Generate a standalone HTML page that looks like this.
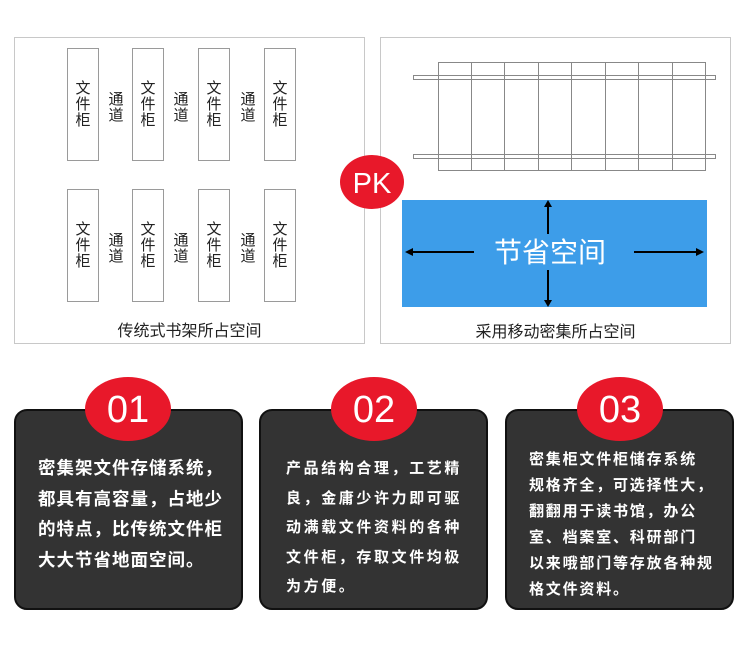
<!DOCTYPE html>
<html><head><meta charset="utf-8"><style>
body{margin:0;width:750px;height:650px;background:#fff;position:relative;overflow:hidden;font-family:"Liberation Sans","Noto Sans CJK SC",sans-serif}
.a{position:absolute}
.box{position:absolute;border:1.5px solid #c8c8c8;background:#fff}
.cab{position:absolute;width:32px;height:113px;border:1px solid #9a9a9a;box-sizing:border-box;display:flex;align-items:center;justify-content:center;font-size:15px;line-height:16px;color:#222;text-align:center}
.ch{position:absolute;width:20px;font-size:15px;line-height:16px;color:#222;text-align:center}
.card{position:absolute;top:409px;width:229px;height:201px;background:#333;border:2px solid #111;border-radius:13px;box-sizing:border-box;color:#fff;font-weight:bold}
.num{position:absolute;width:86px;height:64px;top:377px;background:#e8182a;border-radius:50%;color:#fff;font-size:38px;text-align:center;line-height:66px}
</style></head><body>
<div class="box" style="left:14px;top:37px;width:349px;height:305px"></div>
<div class="box" style="left:380px;top:37px;width:349px;height:305px"></div>

<div class="cab" style="left:67px;top:48px">文<br>件<br>柜</div>
<div class="cab" style="left:132px;top:48px">文<br>件<br>柜</div>
<div class="cab" style="left:198px;top:48px">文<br>件<br>柜</div>
<div class="cab" style="left:264px;top:48px">文<br>件<br>柜</div>
<div class="cab" style="left:67px;top:189px">文<br>件<br>柜</div>
<div class="cab" style="left:132px;top:189px">文<br>件<br>柜</div>
<div class="cab" style="left:198px;top:189px">文<br>件<br>柜</div>
<div class="cab" style="left:264px;top:189px">文<br>件<br>柜</div>
<div class="ch" style="left:106px;top:92px">通<br>道</div>
<div class="ch" style="left:171px;top:92px">通<br>道</div>
<div class="ch" style="left:238px;top:92px">通<br>道</div>
<div class="ch" style="left:106px;top:233px">通<br>道</div>
<div class="ch" style="left:171px;top:233px">通<br>道</div>
<div class="ch" style="left:238px;top:233px">通<br>道</div>
<div class="a" style="left:14px;width:351px;top:317px;text-align:center;font-size:16px;color:#222">传统式书架所占空间</div>

<svg class="a" style="left:0;top:0" width="750" height="650">
<g stroke="#888" stroke-width="1" fill="none">
<rect x="438.5" y="62.5" width="267" height="108"/>
<line x1="471.5" y1="62" x2="471.5" y2="170"/><line x1="504.5" y1="62" x2="504.5" y2="170"/>
<line x1="538.5" y1="62" x2="538.5" y2="170"/><line x1="571.5" y1="62" x2="571.5" y2="170"/>
<line x1="605.5" y1="62" x2="605.5" y2="170"/><line x1="638.5" y1="62" x2="638.5" y2="170"/>
<line x1="672.5" y1="62" x2="672.5" y2="170"/>
<rect x="413.5" y="75.5" width="302" height="4"/>
<rect x="413.5" y="154.5" width="302" height="4"/>
</g>
<rect x="402" y="200" width="305" height="107" fill="#3d9de9"/>
<g stroke="#000" stroke-width="2">
<line x1="548" y1="204" x2="548" y2="234"/><line x1="548" y1="270" x2="548" y2="303"/>
<line x1="410" y1="252" x2="474" y2="252"/><line x1="634" y1="252" x2="699" y2="252"/>
</g>
<g fill="#000">
<polygon points="548,200 544,207 552,207"/><polygon points="548,307 544,300 552,300"/>
<polygon points="405,252 413,248 413,256"/><polygon points="704,252 696,248 696,256"/>
</g>
<text x="550" y="262" font-size="28" fill="#fff" text-anchor="middle" font-family="Liberation Sans,Noto Sans CJK SC,sans-serif">节省空间</text>
<ellipse cx="372" cy="182" rx="32" ry="27" fill="#e8182a"/>
<text x="372" y="193" font-size="29" fill="#fff" text-anchor="middle" font-family="Liberation Sans,sans-serif">PK</text>
</svg>
<div class="a" style="left:380px;width:351px;top:318px;text-align:center;font-size:16px;color:#222">采用移动密集所占空间</div>

<div class="card" style="left:14px"><div style="position:absolute;left:22px;top:42px;font-size:17.5px;line-height:30.5px;letter-spacing:1px;white-space:nowrap">密集架文件存储系统，<br>都具有高容量，占地少<br>的特点，比传统文件柜<br>大大节省地面空间。</div></div>
<div class="card" style="left:259px"><div style="position:absolute;left:25px;top:43px;font-size:15px;line-height:29.5px;letter-spacing:2.6px;white-space:nowrap">产品结构合理，工艺精<br>良，金庸少许力即可驱<br>动满载文件资料的各种<br>文件柜，存取文件均极<br>为方便。</div></div>
<div class="card" style="left:505px"><div style="position:absolute;left:22px;top:36px;font-size:15px;line-height:26px;letter-spacing:1.8px;white-space:nowrap">密集柜文件柜储存系统<br>规格齐全，可选择性大，<br>翻翻用于读书馆，办公<br>室、档案室、科研部门<br>以来哦部门等存放各种规<br>格文件资料。</div></div>
<div class="num" style="left:85px">01</div>
<div class="num" style="left:331px">02</div>
<div class="num" style="left:577px">03</div>
</body></html>
